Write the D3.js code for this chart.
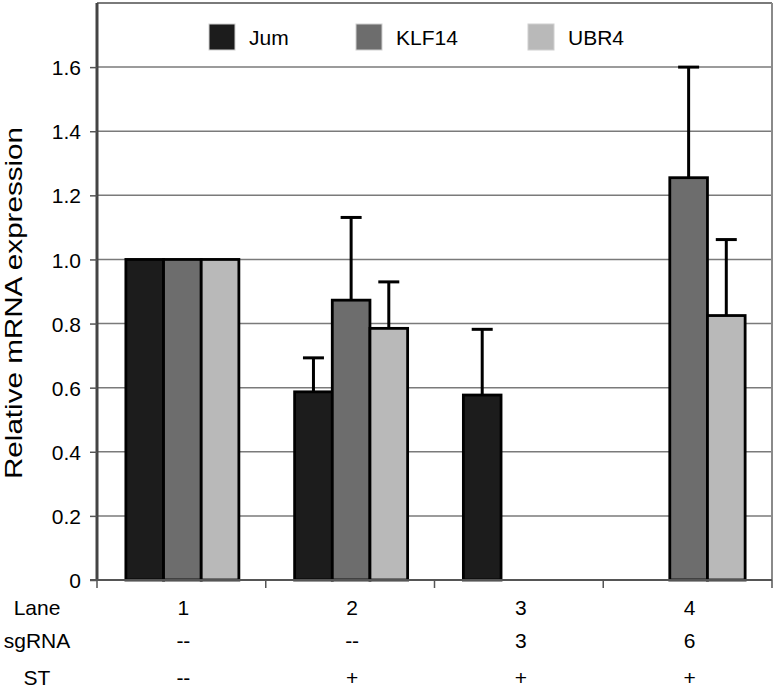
<!DOCTYPE html>
<html>
<head>
<meta charset="utf-8">
<script src="https://cdn.jsdelivr.net/npm/d3@7"></script>
<style>
  html, body { margin: 0; padding: 0; background: #fff; }
  svg { display: block; }
  text { font-family: "Liberation Sans", Arial, Helvetica, sans-serif; fill: #000; }
</style>
</head>
<body>
<svg id="chart" width="776" height="690"></svg>
<script>
// ---- data ----
const lanes = ["1", "2", "3", "4"];
const seriesNames = ["Jum", "KLF14", "UBR4"];
const jumValues   = [1.0, 0.587, 0.577, null];
const klf14Values = [1.0, 0.873, null, 1.255];
const ubr4Values  = [1.0, 0.785, null, 0.825];
const jumErr   = [null, 0.106, 0.205, null];
const klf14Err = [null, 0.258, null, 0.345];
const ubr4Err  = [null, 0.145, null, 0.237];
const yTickValues = [0, 0.2, 0.4, 0.6, 0.8, 1.0, 1.2, 1.4, 1.6];
const yTickLabels = ["0", "0.2", "0.4", "0.6", "0.8", "1.0", "1.2", "1.4", "1.6"];
const rowLabels = ["Lane", "sgRNA", "ST"];
const sgRNARow = ["--", "--", "3", "6"];
const stRow = ["--", "+", "+", "+"];
const yTitle = "Relative mRNA expression";

const colors = { "Jum": "#1c1c1c", "KLF14": "#6d6d6d", "UBR4": "#b9b9b9" };

const values = { "Jum": jumValues, "KLF14": klf14Values, "UBR4": ubr4Values };
const errs = { "Jum": jumErr, "KLF14": klf14Err, "UBR4": ubr4Err };

const svg = d3.select("#chart");
const mLeft = 97, mRight = 772, mTop = 3, mBottom = 580;

const x = d3.scaleBand().domain(lanes).range([mLeft, mRight]).padding(0);
const groupW = 113;
const x1 = d3.scaleBand().domain(seriesNames).range([0, groupW]).padding(0);
const groupOffset = (x.bandwidth() - groupW) / 2 + 1;
const y = d3.scaleLinear().domain([0, 1.8]).range([mBottom, mTop]);

// gridlines
svg.append("g").selectAll("line").data(yTickValues.filter(d => d > 0)).join("line")
  .attr("x1", mLeft).attr("x2", mRight)
  .attr("y1", d => y(d)).attr("y2", d => y(d))
  .attr("stroke", "#7a7a7a").attr("stroke-width", 1.5);

// top and right border
svg.append("line").attr("x1", mLeft).attr("x2", mRight).attr("y1", y(1.8)).attr("y2", y(1.8))
  .attr("stroke", "#7a7a7a").attr("stroke-width", 2);
svg.append("line").attr("x1", mRight).attr("x2", mRight).attr("y1", y(1.8)).attr("y2", y(0))
  .attr("stroke", "#8a8a8a").attr("stroke-width", 2);

// bars
const barData = [];
lanes.forEach((lane, i) => {
  seriesNames.forEach(s => {
    const v = values[s][i];
    if (v !== null) barData.push({ lane, s, v, e: errs[s][i] });
  });
});

svg.append("g").selectAll("rect").data(barData).join("rect")
  .attr("x", d => x(d.lane) + groupOffset + x1(d.s))
  .attr("y", d => y(d.v))
  .attr("width", x1.bandwidth())
  .attr("height", d => y(0) - y(d.v))
  .attr("fill", d => colors[d.s])
  .attr("stroke", "#000").attr("stroke-width", 2.8);

// error bars (upper only)
const eg = svg.append("g").attr("stroke", "#000").attr("stroke-width", 3);
barData.filter(d => d.e !== null).forEach(d => {
  const cx = x(d.lane) + groupOffset + x1(d.s) + x1.bandwidth() / 2;
  eg.append("line").attr("x1", cx).attr("x2", cx).attr("y1", y(d.v)).attr("y2", y(d.v + d.e));
  eg.append("line").attr("x1", cx - 10.5).attr("x2", cx + 10.5).attr("y1", y(d.v + d.e)).attr("y2", y(d.v + d.e));
});

// y axis
const yAxis = d3.axisLeft(y).tickValues(yTickValues)
  .tickFormat((d, i) => yTickLabels[i]).tickSize(7).tickPadding(9);
const ya = svg.append("g").attr("transform", `translate(${mLeft},0)`).call(yAxis);
ya.select(".domain").attr("stroke", "#444").attr("stroke-width", 3)
  .attr("d", `M0,${y(1.8)}V${y(0)}`);
ya.selectAll(".tick line").attr("stroke", "#555").attr("stroke-width", 1.5);
ya.selectAll(".tick text").style("font-size", "21px")
  .style("font-family", '"Liberation Sans", Arial, sans-serif').attr("fill", "#000").attr("dy", "0.36em");

// x axis baseline and ticks at band boundaries
svg.append("line").attr("x1", mLeft - 7).attr("x2", mRight).attr("y1", y(0)).attr("y2", y(0))
  .attr("stroke", "#555").attr("stroke-width", 2);
const bounds = lanes.map(l => x(l)).concat([x.range()[1]]);
svg.append("g").selectAll("line").data(bounds).join("line")
  .attr("x1", d => d).attr("x2", d => d).attr("y1", y(0)).attr("y2", y(0) + 8)
  .attr("stroke", "#555").attr("stroke-width", 1.5);

// y title
svg.append("text")
  .attr("transform", `translate(22,303) rotate(-90)`)
  .attr("text-anchor", "middle")
  .attr("textLength", 352).attr("lengthAdjust", "spacingAndGlyphs")
  .style("font-size", "24px")
  .text(yTitle);

// legend
const legendX = [209, 356, 528];
const lg = svg.append("g");
seriesNames.forEach((s, i) => {
  lg.append("rect").attr("x", legendX[i]).attr("y", 24).attr("width", 26).attr("height", 26)
    .attr("fill", colors[s]).attr("stroke", "#d0d0d0").attr("stroke-width", 1);
  lg.append("text").attr("x", legendX[i] + 40).attr("y", 45).style("font-size", "21px").text(s);
});

// bottom table
const rows = [lanes, sgRNARow, stRow];
const rowY = [615, 648, 685];
const tg = svg.append("g");
rows.forEach((row, r) => {
  tg.append("text").attr("x", 37).attr("y", rowY[r])
    .attr("text-anchor", "middle").style("font-size", "21px").text(rowLabels[r]);
  row.forEach((t, i) => {
    tg.append("text")
      .attr("x", x(lanes[i]) + x.bandwidth() / 2 + 2).attr("y", rowY[r])
      .attr("text-anchor", "middle").style("font-size", "21px").text(t);
  });
});
</script>
</body>
</html>
